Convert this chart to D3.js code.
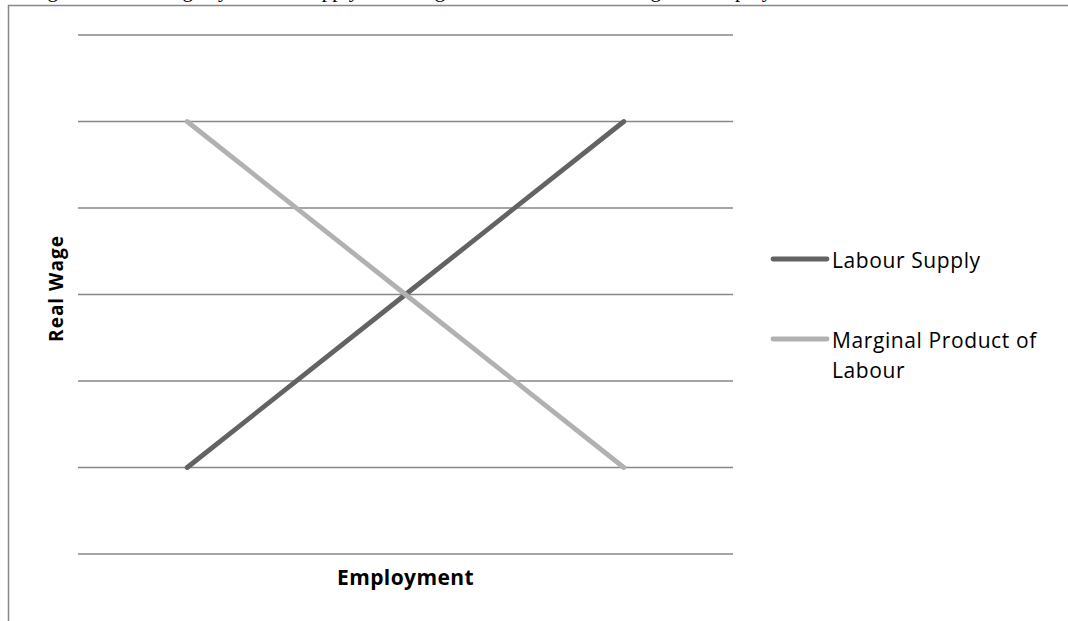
<!DOCTYPE html>
<html>
<head>
<meta charset="utf-8">
<script src="https://cdn.jsdelivr.net/npm/d3@7"></script>
<style>
  body { margin: 0; background: #fff; }
  svg { display: block; }
</style>
</head>
<body>
<div id="chart"></div>
<script>
// data
const categories = ["A", "B", "C"];
const labourSupply = [1, 3, 5];
const marginalProduct = [5, 3, 1];
const yTicks = [0, 1, 2, 3, 4, 5, 6];
const seriesNames = ["Labour Supply", "Marginal Product of Labour"];

const width = 1068, height = 621;
const plot = { left: 78, right: 733, top: 35, bottom: 554 };

const svg = d3.select("#chart").append("svg")
  .attr("width", width)
  .attr("height", height);

// caption line above the frame, only its lower edge shows (as in the source)
svg.append("text")
  .attr("x", 30)
  .attr("y", -3)
  .attr("font-family", "Liberation Serif")
  .attr("font-size", 21)
  .attr("fill", "#000")
  .text("Figure 1: Real Wage by Labour Supply and Marginal Product of Labour against Employment");

// frame
svg.append("path")
  .attr("d", `M8.5,${height} V5.5 H${width}`)
  .attr("fill", "none")
  .attr("stroke", "#878787")
  .attr("stroke-width", 1.5);

const x = d3.scaleBand().domain(categories).range([plot.left, plot.right]);
const y = d3.scaleLinear().domain([0, 6]).range([plot.bottom, plot.top]);

// gridlines
svg.append("g")
  .selectAll("line")
  .data(yTicks)
  .join("line")
  .attr("x1", plot.left)
  .attr("x2", plot.right)
  .attr("y1", d => y(d))
  .attr("y2", d => y(d))
  .attr("stroke", "#878787")
  .attr("stroke-width", 1.5);

const line = d3.line()
  .x((d, i) => x(categories[i]) + x.bandwidth() / 2)
  .y(d => y(d));

const series = [
  { name: seriesNames[0], values: labourSupply, color: "#636363" },
  { name: seriesNames[1], values: marginalProduct, color: "#b1b1b1" }
];

// light line sits on top of the dark one
series.forEach(s => {
  svg.append("path")
    .datum(s.values)
    .attr("d", line)
    .attr("fill", "none")
    .attr("stroke", s.color)
    .attr("stroke-width", 4.8)
    .attr("stroke-linecap", "round");
});

// axis titles
svg.append("text")
  .attr("x", (plot.left + plot.right) / 2)
  .attr("y", 585)
  .attr("text-anchor", "middle")
  .attr("font-family", "Open Sans, sans-serif")
  .attr("font-weight", "bold")
  .attr("font-size", 21)
  .attr("letter-spacing", 0.4)
  .text("Employment");

svg.append("text")
  .attr("transform", "translate(63,288.5) rotate(-90)")
  .attr("text-anchor", "middle")
  .attr("font-family", "Open Sans, sans-serif")
  .attr("font-weight", "bold")
  .attr("font-size", 19)
  .attr("letter-spacing", 1)
  .text("Real Wage");

// legend
const legend = svg.append("g");
const legendRows = [
  { s: series[0], y: 259, lines: ["Labour Supply"] },
  { s: series[1], y: 339, lines: ["Marginal Product of", "Labour"] }
];
legendRows.forEach(r => {
  legend.append("line")
    .attr("x1", 773).attr("x2", 827)
    .attr("y1", r.y).attr("y2", r.y)
    .attr("stroke", r.s.color)
    .attr("stroke-width", 4.8)
    .attr("stroke-linecap", "round");
  r.lines.forEach((t, i) => {
    legend.append("text")
      .attr("x", 832)
      .attr("y", r.y + 9 + i * 30)
      .attr("font-family", "Open Sans, sans-serif")
      .attr("font-size", 21)
      .attr("letter-spacing", 0.6)
      .attr("fill", "#000")
      .text(t);
  });
});
</script>
</body>
</html>
